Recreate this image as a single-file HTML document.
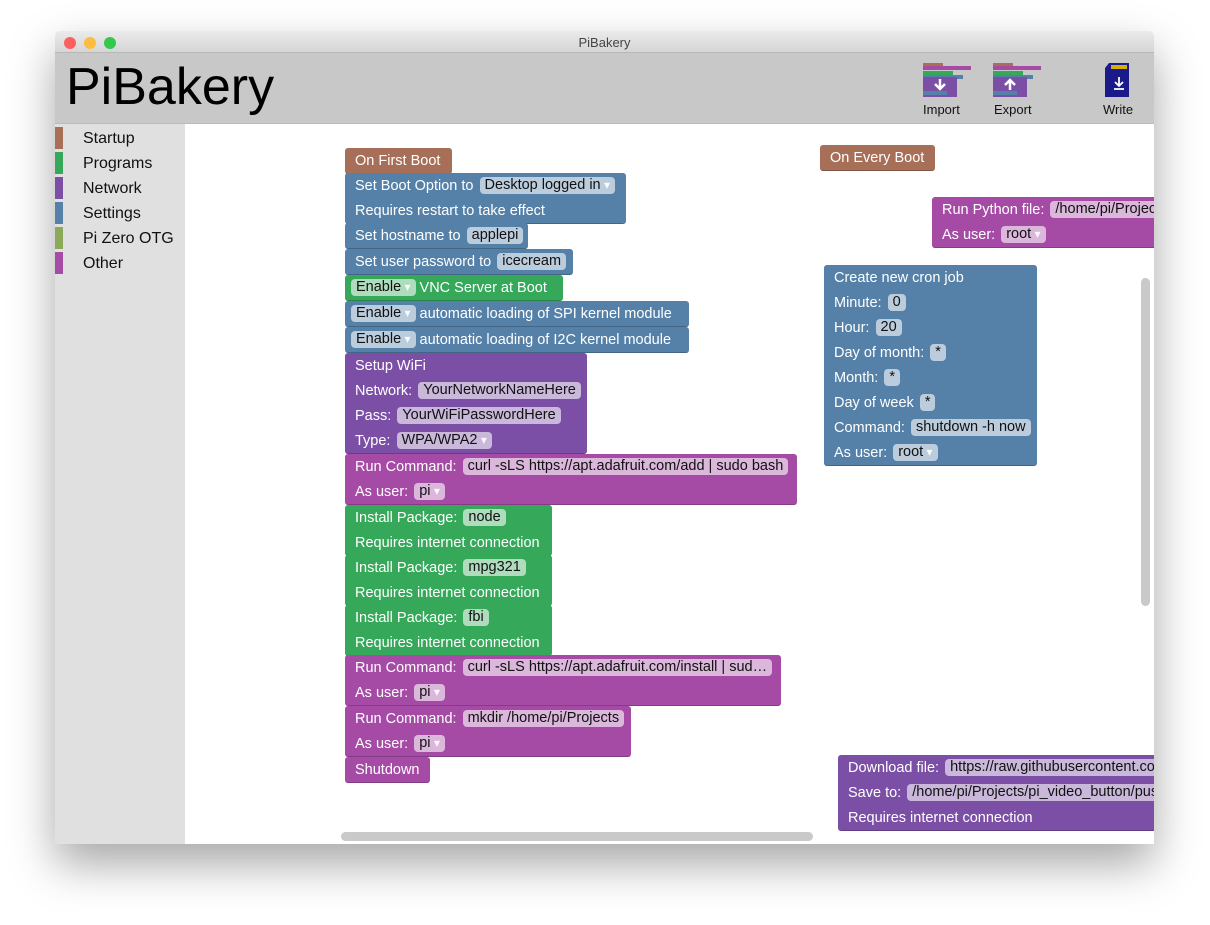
<!DOCTYPE html>
<html><head><meta charset="utf-8"><style>
*{margin:0;padding:0;box-sizing:border-box}
body{width:1210px;height:925px;background:#fff;position:relative;overflow:hidden;font-family:"Liberation Sans",sans-serif}
.win{position:absolute;left:55px;top:31px;width:1099px;height:813px;background:#fff;box-shadow:0 20px 45px rgba(0,0,0,.35);border-radius:5px 5px 0 0;overflow:hidden}
.title{position:absolute;left:0;top:0;width:100%;height:22px;background:linear-gradient(#ebebeb,#d6d6d6);border-bottom:1px solid #b8b8b8;text-align:center;font-size:13px;line-height:24px;color:#444}
.dot{position:absolute;top:6px;width:12px;height:12px;border-radius:50%}
.head{position:absolute;left:0;top:22px;width:100%;height:71px;background:#c8c8c8;border-bottom:1px solid #bbb}
.logo{position:absolute;left:11px;top:4px;font-size:52px;color:#000}
.side{position:absolute;left:0;top:93px;width:130px;height:720px;background:#e0e0e0}
.cat{position:absolute;left:0;height:22px;font-size:16px;color:#111;line-height:24px}
.cat i{position:absolute;left:0;top:0;width:8px;height:22px}
.cat span{position:absolute;left:28px;white-space:nowrap}
.clip{position:absolute;left:0;top:0;width:1154px;height:844px;overflow:hidden}
.b{position:absolute;color:#fff;font-size:14.5px;border-radius:3px;padding-left:10px;border-bottom:1px solid rgba(0,0,0,.2)}
.r{height:25px;line-height:26px;white-space:nowrap}
.c{display:inline-block;height:17px;line-height:17px;padding:0 5px;border-radius:4px;background:rgba(255,255,255,.6);color:#111;vertical-align:middle;margin-top:-2px;margin-left:2px}
.dd:after{content:" \25BE";color:rgba(255,255,255,.9);font-size:12px}
.br{background:#a76f58}.bl{background:#5580a8}.gr{background:#35a85a}.nw{background:#7b4fa5}.ot{background:#a54ba5}
.ico{position:absolute;font-size:13px;color:#111;text-align:center}
</style></head><body>
<div class="win">
<div class="title">PiBakery<div class="dot" style="left:9px;background:#fc605c"></div><div class="dot" style="left:29px;background:#fdbc40"></div><div class="dot" style="left:49px;background:#34c84a"></div></div>
<div class="head"><div class="logo">PiBakery</div>
<svg style="position:absolute;left:868px;top:10px" width="50" height="40"><rect x="0" y="0" width="20" height="6" fill="#a76f58"/><rect x="0" y="3" width="48" height="4" fill="#a54ba5"/><rect x="0" y="8" width="30" height="4" fill="#35a85a"/><rect x="0" y="12" width="40" height="4" fill="#5580a8"/><rect x="0" y="14" width="34" height="20" fill="#7b4fa5"/><rect x="0" y="28" width="24" height="4" fill="#5580a8"/><path d="M17 16v9M12 21l5 5 5-5" stroke="#fff" stroke-width="2.5" fill="none"/></svg>
<svg style="position:absolute;left:938px;top:10px" width="50" height="40"><rect x="0" y="0" width="20" height="6" fill="#a76f58"/><rect x="0" y="3" width="48" height="4" fill="#a54ba5"/><rect x="0" y="8" width="30" height="4" fill="#35a85a"/><rect x="0" y="12" width="40" height="4" fill="#5580a8"/><rect x="0" y="14" width="34" height="20" fill="#7b4fa5"/><rect x="0" y="28" width="24" height="4" fill="#5580a8"/><path d="M17 27v-9M12 22l5-5 5 5" stroke="#fff" stroke-width="2.5" fill="none"/></svg>
<svg style="position:absolute;left:1050px;top:10px" width="28" height="36"><path d="M4 0h20v34H0V5z" fill="#1a1a8a"/><rect x="6" y="2" width="16" height="4" fill="#d4b000"/><path d="M14 14v9M10 19l4 4 4-4M9 26h10" stroke="#fff" stroke-width="1.8" fill="none"/></svg>
<div class="ico" style="left:868px;top:49px">Import</div>
<div class="ico" style="left:939px;top:49px">Export</div>
<div class="ico" style="left:1048px;top:49px">Write</div>
</div>
<div class="side">
<div class="cat" style="top:3px"><i style="background:#a76f58"></i><span>Startup</span></div>
<div class="cat" style="top:28px"><i style="background:#35a85a"></i><span>Programs</span></div>
<div class="cat" style="top:53px"><i style="background:#7b4fa5"></i><span>Network</span></div>
<div class="cat" style="top:78px"><i style="background:#5580a8"></i><span>Settings</span></div>
<div class="cat" style="top:103px"><i style="background:#8aaa5a"></i><span>Pi Zero OTG</span></div>
<div class="cat" style="top:128px"><i style="background:#a54ba5"></i><span>Other</span></div>
</div>
</div>
<div class="clip">
<div class="b br" style="left:345px;top:148px;width:107px"><div class="r">On First Boot</div></div>
<div class="b bl" style="left:345px;top:173px;width:281px"><div class="r">Set Boot Option to <span class="c dd">Desktop logged in</span></div><div class="r">Requires restart to take effect</div></div>
<div class="b bl" style="left:345px;top:223px;width:183px"><div class="r">Set hostname to <span class="c">applepi</span></div></div>
<div class="b bl" style="left:345px;top:249px;width:228px"><div class="r">Set user password to <span class="c">icecream</span></div></div>
<div class="b gr" style="left:345px;top:275px;width:218px;padding-left:4px"><div class="r"><span class="c dd">Enable</span> VNC Server at Boot</div></div>
<div class="b bl" style="left:345px;top:301px;width:344px;padding-left:4px"><div class="r"><span class="c dd">Enable</span> automatic loading of SPI kernel module</div></div>
<div class="b bl" style="left:345px;top:327px;width:344px;padding-left:4px"><div class="r"><span class="c dd">Enable</span> automatic loading of I2C kernel module</div></div>
<div class="b nw" style="left:345px;top:353px;width:242px"><div class="r">Setup WiFi</div><div class="r">Network: <span class="c">YourNetworkNameHere</span></div><div class="r">Pass: <span class="c">YourWiFiPasswordHere</span></div><div class="r">Type: <span class="c dd">WPA/WPA2</span></div></div>
<div class="b ot" style="left:345px;top:454px;width:452px"><div class="r">Run Command: <span class="c">curl -sLS https://apt.adafruit.com/add | sudo bash</span></div><div class="r">As user: <span class="c dd">pi</span></div></div>
<div class="b gr" style="left:345px;top:505px;width:207px"><div class="r">Install Package: <span class="c">node</span></div><div class="r">Requires internet connection</div></div>
<div class="b gr" style="left:345px;top:555px;width:207px"><div class="r">Install Package: <span class="c">mpg321</span></div><div class="r">Requires internet connection</div></div>
<div class="b gr" style="left:345px;top:605px;width:207px"><div class="r">Install Package: <span class="c">fbi</span></div><div class="r">Requires internet connection</div></div>
<div class="b ot" style="left:345px;top:655px;width:436px"><div class="r">Run Command: <span class="c">curl -sLS https://apt.adafruit.com/install | sud…</span></div><div class="r">As user: <span class="c dd">pi</span></div></div>
<div class="b ot" style="left:345px;top:706px;width:286px"><div class="r">Run Command: <span class="c">mkdir /home/pi/Projects</span></div><div class="r">As user: <span class="c dd">pi</span></div></div>
<div class="b ot" style="left:345px;top:757px;width:85px"><div class="r">Shutdown</div></div>

<div class="b br" style="left:820px;top:145px;width:115px"><div class="r">On Every Boot</div></div>
<div class="b ot" style="left:932px;top:197px;width:260px"><div class="r">Run Python file: <span class="c">/home/pi/Projects/pi_video</span></div><div class="r">As user: <span class="c dd">root</span></div></div>
<div class="b bl" style="left:824px;top:265px;width:213px"><div class="r">Create new cron job</div><div class="r">Minute: <span class="c">0</span></div><div class="r">Hour: <span class="c">20</span></div><div class="r">Day of month: <span class="c">*</span></div><div class="r">Month: <span class="c">*</span></div><div class="r">Day of week <span class="c">*</span></div><div class="r">Command: <span class="c">shutdown -h now</span></div><div class="r">As user: <span class="c dd">root</span></div></div>
<div class="b nw" style="left:838px;top:755px;width:400px"><div class="r">Download file: <span class="c">https://raw.githubusercontent.com/x</span></div><div class="r">Save to: <span class="c">/home/pi/Projects/pi_video_button/push</span></div><div class="r">Requires internet connection</div></div>
<div style="position:absolute;left:1141px;top:278px;width:9px;height:328px;border-radius:5px;background:#c9c9c9"></div>
<div style="position:absolute;left:341px;top:832px;width:472px;height:9px;border-radius:5px;background:#c9c9c9"></div>
</div>
</body></html>
